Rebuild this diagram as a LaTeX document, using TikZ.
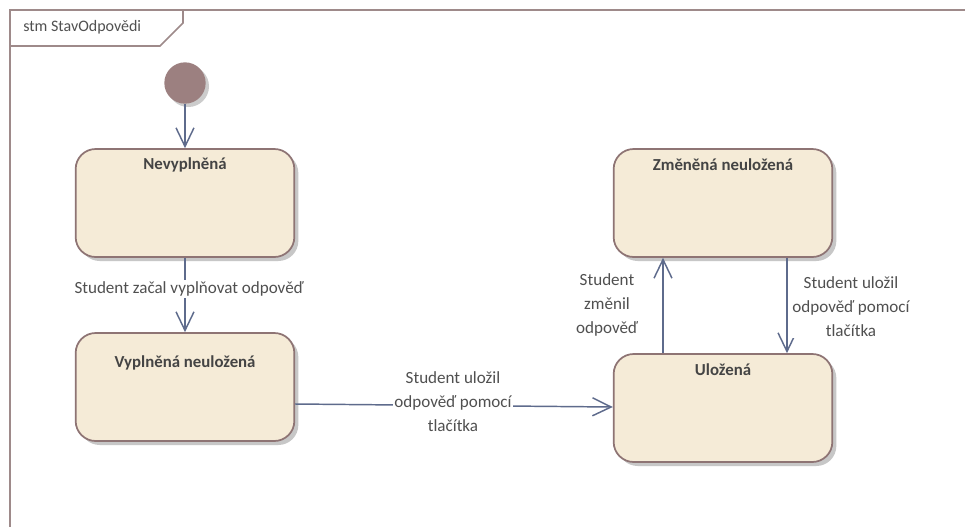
\documentclass[tikz,border=0pt]{standalone}
\usepackage{fontspec}
\setmainfont{Carlito}
\usetikzlibrary{arrows.meta,shadows,calc}
\definecolor{stfill}{HTML}{F5EBD7}
\definecolor{stborder}{HTML}{8E7474}
\definecolor{framec}{HTML}{9E8A8A}
\definecolor{arrc}{HTML}{5E6B8C}
\definecolor{txtc}{HTML}{505050}
\definecolor{initc}{HTML}{9C8080}
\tikzset{
  state/.style={draw=stborder, line width=1.3pt, fill=stfill, rounded corners=15pt,
    minimum width=164pt, minimum height=81pt,
    drop shadow={shadow xshift=3pt, shadow yshift=-3pt, fill=black!22, opacity=1}},
  stname/.style={font=\bfseries\fontsize{12.6}{14}\selectfont, text=txtc!85!black},
  trlabel/.style={font=\fontsize{12.8}{18}\selectfont, text=txtc, align=center, fill=white, inner sep=1pt},
  trans/.style={draw=arrc, line width=1.1pt, -{Straight Barb[length=14pt,width=13.5pt,line width=1.1pt]}},
}
\begin{document}
\begin{tikzpicture}[x=0.75pt,y=-0.75pt]
\useasboundingbox (0,0) rectangle (965,526);
\clip (0,0) rectangle (965,526);
\fill[white] (0,0) rectangle (965,526);
% frame
\draw[framec, line width=1.5pt] (10,560) -- (10,10) -- (1000,10);
\draw[framec, line width=1.2pt] (10,46) -- (160,46) -- (183,23) -- (183,10);
\node[anchor=west, font=\fontsize{12}{13}\selectfont, text=txtc, inner sep=0pt] (title) at (23,27) {stm StavOdpovědi};
% initial
\node[circle, fill=initc, minimum size=31pt, inner sep=0pt,
  drop shadow={shadow xshift=2.5pt, shadow yshift=-2.5pt, fill=black!20, opacity=1}] (init) at (185,83) {};
% states
\node[state] (n) at (185,203) {};
\node[stname] (nl) at ($(n.north)+(0,17)$) {Nevyplněná};
\node[state] (v) at (185,387) {};
\node[stname] (vl) at ($(v.north)+(0,31)$) {Vyplněná neuložená};
\node[state] (z) at (723,203) {};
\node[stname] (zl) at ($(z.north)+(0,17)$) {Změněná neuložená};
\node[state] (u) at (723,408) {};
\node[stname] (ul) at ($(u.north)+(0,17)$) {Uložená};
% transitions
\draw[trans] (init) -- (n);
\draw[trans] (n) -- (v);
\node[trlabel] (l1) at (189,289) {Student začal vyplňovat odpověď};
\coordinate (vs) at ($(v.east)+(0,17)$);
\coordinate (ue) at ($(u.west)+(0,-1)$);
\draw[trans] (vs) -- (ue);
\node[trlabel] (l2) at (453,402) {Student uložil\\odpověď pomocí\\tlačítka};
\coordinate (ua) at (u.north -| 663,0);
\coordinate (za) at (z.south -| 663,0);
\draw[trans] (ua) -- (za);
\node[trlabel] (l3) at (607,305) {Student\\změnil\\odpověď};
\coordinate (zb) at (z.south -| 787,0);
\coordinate (ub) at (u.north -| 787,0);
\draw[trans] (zb) -- (ub);
\node[trlabel] (l4) at (851,307) {Student uložil\\odpověď pomocí\\tlačítka};
\end{tikzpicture}
\end{document}
